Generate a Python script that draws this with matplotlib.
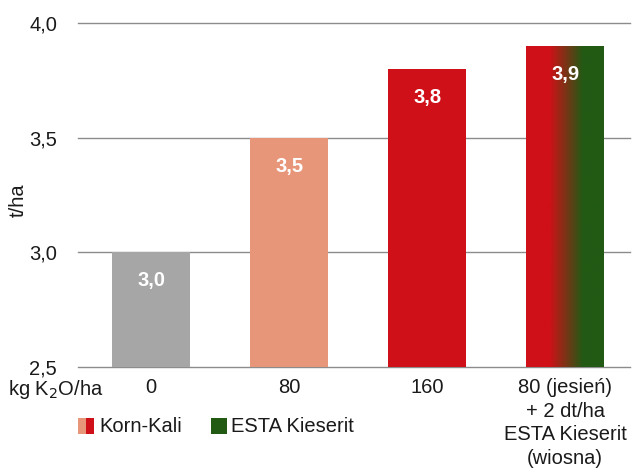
import numpy as np
import matplotlib.pyplot as plt
from matplotlib.colors import LinearSegmentedColormap
from matplotlib.patches import Rectangle

plt.rcParams['font.family'] = ['Liberation Sans', 'DejaVu Sans']

categories = ["0", "80", "160", "80 (jesień)\n+ 2 dt/ha\nESTA Kieserit\n(wiosna)"]
values = [3.0, 3.5, 3.8, 3.9]
value_labels = ["3,0", "3,5", "3,8", "3,9"]
yticks = [2.5, 3.0, 3.5, 4.0]
ytick_labels = ["2,5", "3,0", "3,5", "4,0"]

gray = "#a6a6a6"
salmon = "#e8967a"
red = "#d01018"
green = "#225a14"
colors = [gray, salmon, red, "none"]
fs = 14.5
tc = "#1a1a1a"

fig = plt.figure(figsize=(6.32, 4.73), dpi=100)
ax = fig.add_axes([78 / 632, 1 - 367 / 473, 552 / 632, 344 / 473])

x = np.arange(len(categories))
width = 0.565
bottom = 2.5
bars = ax.bar(x, np.array(values) - bottom, width, bottom=bottom, color=colors,
              edgecolor="none", zorder=2)

# gradient bar: red -> green
cmap = LinearSegmentedColormap.from_list(
    "kk", [(0, red), (0.3, red), (0.73, green), (1, green)])
b = bars[3]
grad = np.linspace(0, 1, 256).reshape(1, -1)
im = ax.imshow(grad, cmap=cmap, aspect="auto", zorder=2,
               extent=[b.get_x(), b.get_x() + b.get_width(), bottom, values[3]])
im.set_clip_path(b)

for xi, v, lab in zip(x, values, value_labels):
    ax.text(xi, v - 0.125, lab, ha="center", va="center", color="white",
            fontsize=fs, fontweight="bold", zorder=3)

ax.set_xlim(-0.53, 3.47)
ax.set_ylim(2.5, 4.0)
ax.set_yticks(yticks)
ax.set_yticklabels(ytick_labels, fontsize=fs)
ax.set_xticks(x)
ax.set_xticklabels(categories, fontsize=fs, linespacing=1.3)
ax.tick_params(axis="both", length=0, colors=tc)
ax.tick_params(axis="y", pad=15)
ax.tick_params(axis="x", pad=8)
for s in ax.spines.values():
    s.set_visible(False)
ax.yaxis.grid(True, color="#8c8c8c", linewidth=1)
ax.set_axisbelow(True)
for gl in ax.get_ygridlines():
    gl.set_clip_on(False)

fig.text(18 / 632, 1 - 200 / 473, "t/ha", rotation=90, ha="center", va="center",
         fontsize=fs, color=tc)
fig.text(8 / 632, 1 - 395 / 473, "kg K$_2$O/ha", ha="left", va="baseline",
         fontsize=fs, color=tc)

# legend drawn by hand
def fig_rect(x0, y0, w, h, c):
    fig.add_artist(Rectangle((x0 / 632, 1 - (y0 + h) / 473), w / 632, h / 473,
                             transform=fig.transFigure, color=c, lw=0))

fig_rect(78, 418, 8, 16, salmon)
fig_rect(86, 418, 8, 16, red)
fig.text(99 / 632, 1 - 426 / 473, "Korn-Kali", ha="left", va="center",
         fontsize=fs, color=tc)
fig_rect(211, 418, 16, 16, green)
fig.text(231 / 632, 1 - 426 / 473, "ESTA Kieserit", ha="left", va="center",
         fontsize=fs, color=tc)

fig.savefig("out.png", dpi=100)
